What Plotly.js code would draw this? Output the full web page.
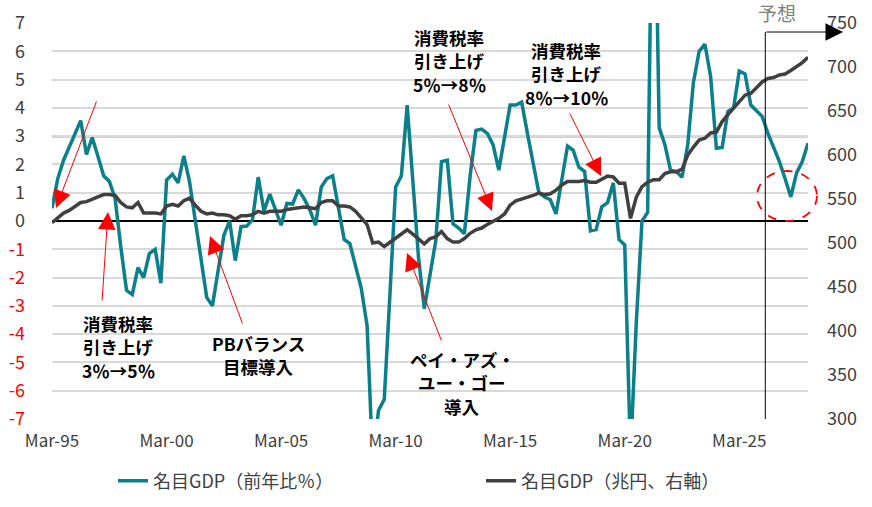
<!DOCTYPE html>
<html>
<head>
<meta charset="utf-8">
<script src="https://cdn.plot.ly/plotly-3.0.1.min.js"></script>
<style>
  html, body { margin: 0; padding: 0; background: #fff; }
  #chart { width: 872px; height: 507px; }
</style>
</head>
<body>
<div id="chart"></div>
<script>
// 名目GDP 前年比（％）, quarterly from Mar-95 to Mar-28
const gdpYoY = [
  0.45, 1.5, 2.15, 2.6, 3.1, 3.55, 2.35, 2.95, 2.3, 1.6,
  1.4, 0.8, -0.9, -2.45, -2.6, -1.65, -2.0, -1.15, -1.0, -2.2,
  1.45, 1.65, 1.35, 2.3, 1.4, 0.05, -1.5, -2.7, -3.0, -1.75,
  -0.5, 0.0, -1.4, -0.2, -0.18, 0.05, 1.55, 0.35, 0.95, 0.4,
  -0.15, 0.62, 0.6, 1.1, 0.8, 0.4, -0.15, 1.2, 1.5, 1.6,
  0.5, -0.65, -0.8, -1.6, -2.4, -3.7, -8.5, -6.7, -6.3, -2.55,
  1.2, 1.6, 4.1, 1.4, -1.3, -3.1, -1.8, -0.7, 2.1, 2.15,
  -0.1, -0.25, -0.45, 1.6, 3.2, 3.25, 3.1, 2.7, 1.8, 2.9,
  4.1, 4.1, 4.2, 3.1, 2.0, 1.0, 0.85, 0.75, 0.25, 1.4,
  2.65, 2.5, 1.9, 1.75, -0.35, -0.3, 0.5, 0.65, 1.35, -0.65,
  -0.85, -8.3, -3.6, 0.0, 0.3, 15.5, 3.3, 2.7, 1.8, 1.75,
  1.55, 2.7, 4.9, 6.0, 6.25, 5.1, 2.57, 2.6, 3.87, 4.0,
  5.3, 5.2, 4.1, 3.9, 3.7, 3.1, 2.6, 2.1, 1.5, 0.85,
  1.7, 2.1, 2.75,
];

// 名目GDP（兆円）
const gdpLevel = [
  523, 528, 534, 537, 541, 546, 547, 550, 553, 555,
  555, 554, 546, 541, 540, 546, 534, 534, 534, 533,
  542, 544, 542, 548, 551, 543, 536, 533, 534, 532,
  532, 531, 527, 531, 531, 532, 536, 534, 536, 536,
  536, 538, 539, 540, 541, 540, 539, 546, 548, 548,
  542, 542, 541, 536, 529, 521, 500, 501, 496, 501,
  505, 510, 515, 510, 504, 499, 505, 507, 513, 505,
  501, 501, 505, 511, 515, 517, 521, 524, 528, 533,
  543, 548, 550, 551, 554, 557, 555, 556, 560, 566,
  570, 570, 570, 571, 569, 569, 573, 576, 575, 568,
  568, 528, 552, 564, 569, 572, 572, 579, 581, 581,
  584, 600, 609, 617, 619, 625, 626, 638, 646, 653,
  660, 668, 670, 677, 683, 687, 688, 691, 692, 696,
  700, 705, 711,
];

const leftTickVals = [-7, -6, -5, -4, -3, -2, -1, 0, 1, 2, 3, 4, 5, 6, 7];
const leftTickText = [
  '<span style="color:#ff0000">-7</span>', '<span style="color:#ff0000">-6</span>',
  '<span style="color:#ff0000">-5</span>', '<span style="color:#ff0000">-4</span>',
  '<span style="color:#ff0000">-3</span>', '<span style="color:#ff0000">-2</span>',
  '<span style="color:#ff0000">-1</span>',
  '0', '1', '2', '3', '4', '5', '6', '7',
];
const rightTickVals = [300, 350, 400, 450, 500, 550, 600, 650, 700, 750];

const FIRST_QUARTER = { year: 1995, month: 3 };
const FORECAST_START = '2026-04-20';

// quarter-end month dates
const quarters = gdpYoY.map((_, i) => {
  const m = FIRST_QUARTER.month - 1 + i * 3;
  const y = FIRST_QUARTER.year + Math.floor(m / 12);
  const mm = String((m % 12) + 1).padStart(2, '0');
  return `${y}-${mm}-01`;
});

const FONT = '"Noto Sans CJK JP", "Noto Sans", sans-serif';
const TEAL = '#0b7f8a';
const GREY = '#404040';

// plot area in page pixels, used to place the notes
const PA = { l: 52, r: 808, t: 23, b: 419 };
const px = (x) => (x - PA.l) / (PA.r - PA.l);
const py = (y) => (PA.b - y) / (PA.b - PA.t);

const traces = [
  {
    x: quarters, y: gdpYoY,
    type: 'scatter', mode: 'lines',
    name: '名目GDP（前年比％）',
    line: { color: TEAL, width: 3.5 },
    legend: 'legend',
  },
  {
    x: quarters, y: gdpLevel,
    type: 'scatter', mode: 'lines',
    name: '名目GDP（兆円、右軸）',
    yaxis: 'y2',
    line: { color: GREY, width: 3.5 },
    legend: 'legend2',
  },
];

const redArrow = (tip, tail) => ({
  x: px(tip[0]), y: py(tip[1]), xref: 'paper', yref: 'paper',
  ax: tail[0] - tip[0], ay: tail[1] - tip[1],
  text: '', showarrow: true,
  arrowcolor: '#ff0000', arrowwidth: 1, arrowhead: 2, arrowsize: 3.5,
});

// multi-line note: one annotation per line
const LINE_GAP = 23.5;
const note = (x, yTop, lines) => lines.map((t, i) => ({
  x: px(x), y: py(yTop + i * LINE_GAP), xref: 'paper', yref: 'paper',
  text: t, showarrow: false, borderpad: 0,
  xanchor: 'center', yanchor: 'middle',
  font: { family: FONT, size: 17.5, color: '#000', weight: 700 },
}));

const layout = {
  width: 872, height: 507,
  paper_bgcolor: '#fff', plot_bgcolor: '#fff',
  margin: { l: PA.l, r: 872 - PA.r, t: PA.t, b: 507 - PA.b, autoexpand: false },
  font: { family: FONT, color: '#404040' },
  showlegend: true,
  xaxis: {
    type: 'date',
    range: ['1995-03-01', '2028-03-01'],
    tick0: '1995-03-01', dtick: 'M60', tickformat: '%b-%y',
    showgrid: false, zeroline: false, showline: false,
    ticks: '', ticklabelstandoff: 10,
    tickfont: { size: 17, color: '#404040' },
  },
  yaxis: {
    range: [-7, 7],
    tickvals: leftTickVals, ticktext: leftTickText,
    gridcolor: '#d9d9d9', gridwidth: 2,
    zeroline: true, zerolinecolor: '#000', zerolinewidth: 2,
    showline: false, ticks: '',
    ticklabelstandoff: 26,
    tickfont: { size: 18, color: '#404040' },
  },
  yaxis2: {
    range: [300, 750], overlaying: 'y', side: 'right',
    tickvals: rightTickVals,
    showgrid: false, zeroline: false, showline: false, ticks: '',
    ticklabelstandoff: 18,
    tickfont: { size: 18, color: '#404040' },
  },
  legend: {
    orientation: 'h', x: px(113), y: py(481), xanchor: 'left', yanchor: 'middle',
    font: { size: 18, color: '#404040' }, bgcolor: 'rgba(0,0,0,0)',
  },
  legend2: {
    orientation: 'h', x: px(481), y: py(481), xanchor: 'left', yanchor: 'middle',
    font: { size: 18, color: '#404040' }, bgcolor: 'rgba(0,0,0,0)',
  },
  shapes: [
    // 3% line
    { type: 'line', xref: 'paper', x0: 0, x1: 1, yref: 'y', y0: 3, y1: 3,
      line: { color: '#ff0000', width: 2 }, layer: 'below' },
    // forecast boundary
    { type: 'line', xref: 'x', x0: FORECAST_START, x1: FORECAST_START,
      yref: 'paper', y0: 0, y1: py(32), line: { color: '#000', width: 1 } },
    // dashed circle round the forecast dip
    { type: 'circle', xref: 'paper', yref: 'paper',
      x0: px(757), x1: px(817), y0: py(221), y1: py(171),
      line: { color: '#ff0000', width: 1.8, dash: 'dash' } },
  ],
  annotations: [
    // forecast arrow
    { x: px(843), y: py(32), xref: 'paper', yref: 'paper', ax: -78, ay: 0,
      text: '', showarrow: true, arrowcolor: '#000', arrowwidth: 1,
      arrowhead: 2, arrowsize: 3.5 },
    { x: px(777), y: py(12), xref: 'paper', yref: 'paper', text: '予想',
      xanchor: 'center', yanchor: 'middle',
      showarrow: false, font: { family: FONT, size: 19, color: '#7f7f7f' } },

    redArrow([108, 212], [102, 302]),
    redArrow([56, 208], [97, 100]),
    redArrow([210, 236], [243, 325]),
    redArrow([407, 253], [442, 342]),
    redArrow([492, 211], [448, 103]),
    redArrow([601, 176], [569, 112]),

    ...note(118, 323, ['消費税率', '引き上げ', '3％→5％']),
    ...note(258, 343, ['PBバランス', '目標導入']),
    ...note(462, 359, ['ペイ・アズ・', 'ユー・ゴー', '導入']),
    ...note(449, 37, ['消費税率', '引き上げ', '5％→8％']),
    ...note(566, 50, ['消費税率', '引き上げ', '8％→10％']),
  ],
};

Plotly.newPlot('chart', traces, layout, { displayModeBar: false, staticPlot: true });
</script>
</body>
</html>
